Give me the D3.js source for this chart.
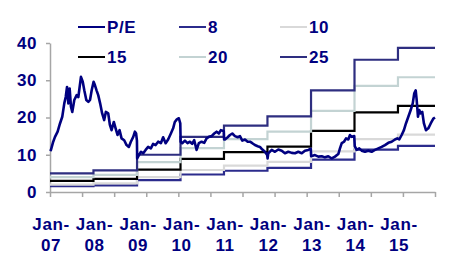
<!DOCTYPE html>
<html>
<head>
<meta charset="utf-8">
<script src="https://cdn.jsdelivr.net/npm/d3@7"></script>
<style>
  body { margin: 0; background: #fff; }
  svg text { font-family: Arial, "Liberation Sans", sans-serif; font-weight: bold; fill: #000080; letter-spacing: 0.6px; }
</style>
</head>
<body>
<div id="chart"></div>
<script>
// P/E series
const peDates = [
  "2007-01-02","2007-01-09","2007-01-28","2007-02-12","2007-03-06","2007-03-26","2007-04-14","2007-05-01",
  "2007-05-13","2007-05-24","2007-06-04","2007-06-15","2007-06-26","2007-07-07","2007-07-24","2007-08-13",
  "2007-08-27","2007-09-18","2007-10-03","2007-10-16","2007-11-02","2007-11-19","2007-12-03","2007-12-17",
  "2008-01-02","2008-01-13","2008-01-27","2008-02-10","2008-02-26","2008-03-14","2008-03-31","2008-04-14",
  "2008-05-04","2008-05-18","2008-06-01","2008-06-20","2008-07-05","2008-07-21","2008-08-07","2008-08-24",
  "2008-09-15","2008-10-05","2008-10-24","2008-11-10","2008-11-30","2008-12-14","2008-12-24","2008-12-31",
  "2009-01-02","2009-01-17","2009-02-03","2009-02-22","2009-03-14","2009-04-04","2009-04-27","2009-05-16",
  "2009-06-06","2009-06-27","2009-07-20","2009-08-08","2009-08-29","2009-09-19","2009-10-12","2009-10-31",
  "2009-11-14","2009-12-01","2009-12-18","2009-12-30",
  "2010-01-02","2010-01-15","2010-02-07","2010-03-01","2010-03-21","2010-04-09","2010-04-26","2010-05-16",
  "2010-06-04","2010-06-27","2010-07-19","2010-08-08","2010-08-27","2010-09-19","2010-10-11","2010-10-31",
  "2010-11-19","2010-12-06","2010-12-30",
  "2011-01-02","2011-01-09","2011-02-01","2011-02-20","2011-03-12","2011-04-03","2011-04-26","2011-05-15",
  "2011-06-04","2011-06-26","2011-07-19","2011-08-07","2011-08-27","2011-09-18","2011-10-11","2011-10-30",
  "2011-11-19","2011-12-11","2011-12-30",
  "2012-01-02","2012-01-08","2012-02-06","2012-03-04","2012-04-01","2012-04-30","2012-05-27","2012-06-24",
  "2012-07-23","2012-08-19","2012-09-16","2012-10-15","2012-11-11","2012-12-09","2012-12-30",
  "2013-01-02","2013-02-03","2013-03-03","2013-04-01","2013-04-28","2013-05-26","2013-06-24","2013-07-21",
  "2013-08-18","2013-09-01","2013-09-16","2013-10-05","2013-10-22","2013-11-10","2013-11-24","2013-12-08",
  "2013-12-30",
  "2014-01-03","2014-01-19","2014-02-10","2014-03-02","2014-03-30","2014-04-27","2014-05-25","2014-06-22",
  "2014-07-20","2014-08-17","2014-09-14","2014-10-12","2014-11-09","2014-12-07","2014-12-26",
  "2015-01-12","2015-02-01","2015-02-20","2015-03-09","2015-03-29","2015-04-18","2015-05-05","2015-05-18",
  "2015-05-30","2015-06-07","2015-06-18","2015-06-29","2015-07-11","2015-07-24","2015-08-07","2015-08-24",
  "2015-09-13","2015-10-03","2015-10-25","2015-11-08"
];
const peValues = [
  11.0, 11.3, 13.5, 14.8, 16.2, 18.4, 20.2, 23.8,
  25.5, 28.2, 23.8, 27.8, 22.9, 21.5, 24.7, 26.0,
  25.5, 30.9, 29.6, 27.3, 24.7, 24.2, 24.7, 27.3,
  29.6, 28.7, 27.3, 26.0, 23.8, 21.1, 19.3, 21.5,
  21.1, 18.0, 16.6, 18.8, 17.1, 15.3, 16.6, 14.4,
  13.9, 12.6, 12.1, 13.5, 14.8, 16.2, 15.7, 13.8,
  9.0, 9.9, 10.8, 10.4, 11.3, 12.1, 11.7, 12.9,
  12.6, 13.5, 13.1, 14.7, 13.1, 14.1, 15.7, 17.1,
  18.8, 19.5, 19.8, 18.4,
  13.5, 13.1, 13.8, 13.1, 13.5, 12.9, 13.9, 11.3,
  13.1, 13.5, 13.2, 14.4, 14.8, 15.0, 15.7, 16.2,
  15.7, 16.6, 16.4,
  14.1, 14.1, 14.7, 15.3, 15.7, 15.0, 14.7, 15.0,
  13.8, 14.1, 13.5, 13.5, 13.1, 12.6, 12.3, 12.1,
  11.4, 10.8, 9.9,
  9.0, 10.4, 11.3, 10.8, 11.4, 11.1, 10.4, 10.8,
  10.5, 10.4, 10.8, 10.4, 11.1, 11.3, 11.6,
  9.6, 9.9, 9.5, 9.6, 9.3, 9.6, 9.0, 9.5,
  10.2, 11.7, 13.1, 13.5, 14.4, 14.1, 15.3, 14.8,
  15.0,
  12.3, 11.3, 11.7, 11.1, 10.8, 11.1, 10.8, 11.3,
  11.7, 12.1, 12.6, 13.2, 13.5, 14.1, 14.4,
  14.1, 15.3, 16.6, 18.4, 20.2, 22.0, 23.8, 26.5,
  27.3, 24.7, 20.2, 22.0, 21.1, 21.5, 18.4, 16.6,
  17.1, 18.4, 19.7, 20.0
];

// P/E bands (price at 8x ... 25x earnings), one level per year
const stepDates = ["2007-01-01","2008-01-01","2009-01-01","2010-01-01","2011-01-01",
                   "2012-01-01","2013-01-01","2014-01-01","2015-01-01"];
const endDate = "2015-11-08";
const band8  = [1.6, 1.8, 3.2, 4.7, 5.7, 6.5, 8.7, 11.4, 12.4];
const band10 = [2.0, 2.3, 4.0, 5.9, 7.1, 8.1, 10.9, 14.2, 15.4];
const band15 = [3.0, 3.5, 6.0, 8.9, 10.7, 12.2, 16.4, 21.4, 23.1];
const band20 = [4.0, 4.6, 8.0, 11.8, 14.2, 16.2, 21.8, 28.5, 30.8];
const band25 = [5.0, 5.8, 10.0, 14.8, 17.8, 20.3, 27.3, 35.5, 38.7];

const yTicks = [0, 10, 20, 30, 40];
const yearLabels = ["07","08","09","10","11","12","13","14","15"];

const margin = { top: 43, right: 36, bottom: 74, left: 50 };
const W = 471, H = 266;
const width = W - margin.left - margin.right;
const height = H - margin.top - margin.bottom;
const fontSize = "17px";

const parseDate = d3.timeParse("%Y-%m-%d");

const svg = d3.select("#chart").append("svg")
  .attr("width", W)
  .attr("height", H);

const g = svg.append("g")
  .attr("transform", `translate(${margin.left},${margin.top})`);

const x = d3.scaleTime()
  .domain([parseDate(stepDates[0]), parseDate(endDate)])
  .range([0, width]);

const y = d3.scaleLinear()
  .domain([0, 40])
  .range([height, 0]);

// axes
const axisColor = "#a6a6a6";

const yAxis = g.append("g")
  .call(d3.axisLeft(y).tickValues(yTicks).tickSize(4).tickSizeOuter(0).tickPadding(9));
yAxis.select(".domain").attr("stroke", axisColor).attr("stroke-width", 1.5);
yAxis.selectAll(".tick line").attr("stroke", axisColor).attr("stroke-width", 1.5);
yAxis.selectAll(".tick text")
  .style("font-size", fontSize)
  .style("font-family", "Arial, 'Liberation Sans', sans-serif")
  .style("font-weight", "bold")
  .attr("fill", "#000080");

// x tick marks: 12 equal intervals across the date range
const [d0, d1] = x.domain();
const xTickDates = d3.range(13).map(i => new Date(+d0 + (d1 - d0) * i / 12));
const xAxis = g.append("g")
  .attr("transform", `translate(0,${height})`)
  .call(d3.axisBottom(x).tickValues(xTickDates).tickSize(5).tickSizeOuter(0).tickFormat(""));
xAxis.select(".domain").attr("stroke", axisColor).attr("stroke-width", 1.5);
xAxis.selectAll(".tick line").attr("stroke", axisColor).attr("stroke-width", 1.5);

// year labels at each January
const yearLab = g.append("g").selectAll("text")
  .data(yearLabels)
  .join("text")
  .attr("text-anchor", "middle")
  .attr("transform", d => `translate(${x(new Date(2000 + +d, 0, 1)) + 1},${height + 38})`)
  .style("font-size", fontSize);
yearLab.append("tspan").attr("x", 0).attr("y", 0).text("Jan-");
yearLab.append("tspan").attr("x", 0).attr("y", 21).text(d => d);

// bands
const stepLine = d3.line()
  .x(d => x(d.date))
  .y(d => y(d.value))
  .curve(d3.curveStepAfter);

function bandData(levels) {
  const pts = levels.map((v, i) => ({ date: parseDate(stepDates[i]), value: v }));
  pts.push({ date: parseDate(endDate), value: levels[levels.length - 1] });
  return pts;
}

const bands = [
  { name: "8", levels: band8, color: "#2b2b8c" },
  { name: "10", levels: band10, color: "#d9d9d9" },
  { name: "15", levels: band15, color: "#000000" },
  { name: "20", levels: band20, color: "#c3d3d3" },
  { name: "25", levels: band25, color: "#2e2e80" }
];

bands.forEach(b => {
  g.append("path")
    .datum(bandData(b.levels))
    .attr("fill", "none")
    .attr("stroke", b.color)
    .attr("stroke-width", 2.2)
    .attr("d", stepLine);
});

// P/E line
const peData = peDates.map((d, i) => ({ date: parseDate(d), value: peValues[i] }));
const line = d3.line()
  .x(d => x(d.date))
  .y(d => y(d.value));

g.append("path")
  .datum(peData)
  .attr("fill", "none")
  .attr("stroke", "#000080")
  .attr("stroke-width", 2.6)
  .attr("stroke-linejoin", "round")
  .attr("d", line);

// legend, 3 columns x 2 rows
const legendItems = [{ name: "P/E", color: "#000080" }].concat(bands);
const legend = svg.append("g");
legendItems.forEach((d, i) => {
  const col = i % 3, row = Math.floor(i / 3);
  const lg = legend.append("g")
    .attr("transform", `translate(${78 + col * 101},${27 + row * 30})`);
  lg.append("line")
    .attr("x1", 0).attr("x2", 27)
    .attr("stroke", d.color)
    .attr("stroke-width", 2);
  lg.append("text")
    .attr("x", 29)
    .attr("dy", "0.36em")
    .style("font-size", fontSize)
    .text(d.name);
});
</script>
</body>
</html>
